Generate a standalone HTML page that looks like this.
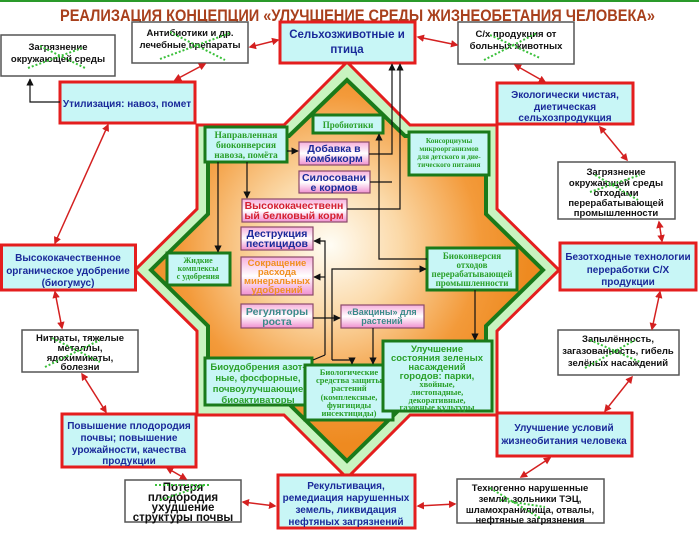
<!DOCTYPE html>
<html><head><meta charset="utf-8"><style>
html,body{margin:0;padding:0;background:#fff;width:699px;height:535px;overflow:hidden}
svg{display:block}
.ob{fill:#c8f6f6;stroke:#e41e1e;stroke-width:3}
.wb{fill:#fff;stroke:#555;stroke-width:1.5}
.gb{fill:#c8f6f6;stroke:#1a7a1a;stroke-width:3}
.pb{fill:url(#pk);stroke:#8a4a6a;stroke-width:1.2}
.bt{font-family:"Liberation Sans",sans-serif;font-weight:bold;font-size:10px;fill:#1a2a9a;text-anchor:middle}
.wt{font-family:"Liberation Sans",sans-serif;font-weight:bold;font-size:9.5px;fill:#111;text-anchor:middle}
.st{font-family:"Liberation Serif",serif;font-weight:bold;font-size:8.5px;fill:#2aa02a;text-anchor:middle}
.gt{font-family:"Liberation Sans",sans-serif;font-weight:bold;font-size:9.5px;fill:#2aa02a;text-anchor:middle}
.ra{stroke:#d42020;stroke-width:1.5;fill:none;marker-start:url(#ar);marker-end:url(#ar)}
.bl{stroke:#111;stroke-width:1.2;fill:none}
.ba{stroke:#111;stroke-width:1.2;fill:none;marker-end:url(#ab)}
.x{stroke:#3ac03a;stroke-width:2;stroke-dasharray:2 2;fill:none}
</style></head><body>
<svg width="699" height="535" viewBox="0 0 699 535" xmlns="http://www.w3.org/2000/svg">
<defs>
<radialGradient id="og" cx="330" cy="245" r="200" gradientUnits="userSpaceOnUse">
<stop offset="0" stop-color="#fffdf5"/><stop offset="0.35" stop-color="#fbd9a8"/><stop offset="0.75" stop-color="#f39a3a"/><stop offset="1" stop-color="#ee8a20"/></radialGradient>
<linearGradient id="pk" x1="0" y1="0" x2="0" y2="1"><stop offset="0" stop-color="#f6b0dc"/><stop offset="0.5" stop-color="#fff"/><stop offset="1" stop-color="#f090d0"/></linearGradient>
<marker id="ar" viewBox="0 0 10 10" refX="8" refY="5" markerWidth="5" markerHeight="5" orient="auto-start-reverse"><path d="M0,0L10,5L0,10z" fill="#d42020"/></marker>
<marker id="ab" viewBox="0 0 10 10" refX="9" refY="5" markerWidth="6" markerHeight="6" orient="auto"><path d="M0,0L10,5L0,10z" fill="#111"/></marker>
</defs>
<line x1="0" y1="1" x2="699" y2="1" stroke="#2a9a2a" stroke-width="2"/>
<text x="60" y="21" textLength="595" lengthAdjust="spacingAndGlyphs" font-family="Liberation Sans,sans-serif" font-weight="bold" font-size="16.5" fill="#a8401c">РЕАЛИЗАЦИЯ КОНЦЕПЦИИ  «УЛУЧШЕНИЕ СРЕДЫ ЖИЗНЕОБЕТАНИЯ ЧЕЛОВЕКА»</text>

<polygon points="347,62 284,125 197,125 197,209 135,270 197,331 197,415 284,415 347,478 410,415 497,415 497,331 559,270 497,209 497,125 410,125" fill="#c8f4c0" stroke="#e41e1e" stroke-width="3"/>
<polygon points="347,80 289,136 208,136 208,214 151,270 208,326 208,404 289,404 347,461 405,404 486,404 486,326 543,270 486,214 486,136 405,136" fill="url(#og)" stroke="#1a7a1a" stroke-width="4"/>

<rect class="ob" x="280" y="22" width="135" height="41"/>
<text class="bt" style="font-size:11.5px" x="347" y="38">Сельхозживотные и</text>
<text class="bt" style="font-size:11.5px" x="347" y="53">птица</text>
<rect class="ob" x="60" y="82" width="135" height="41"/>
<text class="bt" x="127" y="107">Утилизация: навоз, помет</text>
<rect class="ob" x="497" y="83" width="136" height="41"/>
<text class="bt" x="565" y="98">Экологически чистая,</text><text class="bt" x="565" y="110">диетическая</text><text class="bt" x="565" y="121">сельхозпродукция</text>
<rect class="ob" x="1.5" y="245" width="134" height="45"/>
<text class="bt" x="68" y="261">Высококачественное</text><text class="bt" x="68" y="274">органическое удобрение</text><text class="bt" x="68" y="286">(биогумус)</text>
<rect class="ob" x="560" y="243" width="136" height="47"/>
<text class="bt" x="628" y="260">Безотходные технологии</text><text class="bt" x="628" y="273">переработки С/Х</text><text class="bt" x="628" y="285">продукции</text>
<rect class="ob" x="62" y="414" width="134" height="53"/>
<text class="bt" x="129" y="429">Повышение плодородия</text><text class="bt" x="129" y="441">почвы; повышение</text><text class="bt" x="129" y="453">урожайности, качества</text><text class="bt" x="129" y="464">продукции</text>
<rect class="ob" x="497" y="413" width="135" height="43"/>
<text class="bt" x="564" y="431">Улучшение  условий</text><text class="bt" x="564" y="444">жизнеобитания человека</text>
<rect class="ob" x="278" y="475" width="137" height="53"/>
<text class="bt" x="346" y="489">Рекультивация,</text><text class="bt" x="346" y="501">ремедиация нарушенных</text><text class="bt" x="346" y="513">земель, ликвидация</text><text class="bt" x="346" y="525">нефтяных загрязнений</text>

<rect class="wb" x="1" y="35" width="114" height="41"/>
<text class="wt" x="58" y="50">Загрязнение</text><text class="wt" x="58" y="62">окружающей среды</text>
<path class="x" d="M28,68L82,48M40,46L85,68"/>
<rect class="wb" x="132" y="22" width="116" height="41"/>
<text class="wt" x="190" y="36">Антибиотики и др.</text><text class="wt" x="190" y="48">лечебные препараты</text>
<path class="x" d="M160,59L230,33M170,32L225,60"/>
<rect class="wb" x="458" y="22" width="116" height="42"/>
<text class="wt" x="516" y="37">С/х продукция от</text><text class="wt" x="516" y="49">больных животных</text>
<path class="x" d="M484,60L537,33M490,35L540,58"/>
<rect class="wb" x="558" y="162" width="117" height="57"/>
<text class="wt" x="616" y="175">Загрязнение</text><text class="wt" x="616" y="186">окружающей среды</text><text class="wt" x="616" y="196">отходами</text><text class="wt" x="616" y="206">перерабатывающей</text><text class="wt" x="616" y="216">промышленности</text>
<path class="x" d="M590,192L640,175M595,175L638,200"/>
<rect class="wb" x="22" y="330" width="116" height="42"/>
<text class="wt" x="80" y="341">Нитраты, тяжелые</text><text class="wt" x="80" y="351">металлы,</text><text class="wt" x="80" y="361">ядохимикаты,</text><text class="wt" x="80" y="370">болезни</text>
<path class="x" d="M45,367L100,340M52,338L100,362"/>
<rect class="wb" x="558" y="330" width="121" height="45"/>
<text class="wt" x="618" y="342">Запылённость,</text><text class="wt" x="618" y="354">загазованность, гибель</text><text class="wt" x="618" y="366">зелёных насаждений</text>
<path class="x" d="M585,368L635,340M590,340L640,362"/>
<rect class="wb" x="125" y="480" width="116" height="42"/>
<text class="wt" style="font-size:11.5px" x="183" y="491">Потеря</text><text class="wt" style="font-size:11.5px" x="183" y="501">плодородия</text><text class="wt" style="font-size:11.5px" x="183" y="511">ухудшение</text><text class="wt" style="font-size:11.5px" x="183" y="521">структуры почвы</text>
<path class="x" d="M155,485L210,485M160,500L205,485"/>
<rect class="wb" x="457" y="479" width="147" height="44"/>
<text class="wt" x="530" y="491">Техногенно нарушенные</text><text class="wt" x="530" y="502">земли, зольники ТЭЦ,</text><text class="wt" x="530" y="513">шламохранилища, отвалы,</text><text class="wt" x="530" y="523">нефтяные загрязнения</text>
<path class="x" d="M500,500L545,507M490,488L540,518"/>

<line class="ra" x1="250" y1="47" x2="278" y2="40"/>
<line class="ra" x1="205" y1="64" x2="175" y2="80"/>
<line class="ra" x1="418" y1="37" x2="457" y2="45"/>
<line class="ra" x1="515" y1="65" x2="545" y2="82"/>
<line class="ra" x1="600" y1="127" x2="627" y2="160"/>
<line class="ra" x1="659" y1="222" x2="662" y2="241"/>
<line class="ra" x1="660" y1="292" x2="652" y2="329"/>
<line class="ra" x1="632" y1="377" x2="605" y2="411"/>
<line class="ra" x1="550" y1="458" x2="521" y2="477"/>
<line class="ra" x1="455" y1="504" x2="418" y2="506"/>
<line class="ra" x1="275" y1="506" x2="243" y2="502"/>
<line class="ra" x1="186" y1="479" x2="167" y2="468"/>
<line class="ra" x1="106" y1="412" x2="82" y2="374"/>
<line class="ra" x1="62" y1="328" x2="55" y2="292"/>
<line class="ra" x1="55" y1="243" x2="108" y2="125"/>
<path class="ba" d="M60,102H30V79"/>

<rect class="gb" x="205" y="127" width="82" height="35"/>
<text class="st" style="font-size:9.5px" x="246" y="138">Направленная</text><text class="st" style="font-size:9.5px" x="246" y="148">биоконверсия</text><text class="st" style="font-size:9.5px" x="246" y="158">навоза, помёта</text>
<rect class="gb" x="313" y="115" width="70" height="18"/>
<text class="st" style="font-size:9px" x="348" y="128">Пробиотики</text>
<rect class="pb" x="299" y="142" width="70" height="23"/>
<text class="bt" style="font-size:10.5px" x="334" y="152">Добавка в</text><text class="bt" style="font-size:10.5px" x="334" y="162">комбикорм</text>
<rect class="pb" x="299" y="171" width="71" height="22"/>
<text class="bt" style="font-size:10.5px" x="334" y="181">Силосовани</text><text class="bt" style="font-size:10.5px" x="334" y="191">е кормов</text>
<rect class="gb" x="409" y="132" width="80" height="43"/>
<text class="st" style="font-size:7.3px" x="449" y="143">Консорциумы</text><text class="st" style="font-size:7.3px" x="449" y="151">микроорганизмов</text><text class="st" style="font-size:7.3px" x="449" y="159">для детского и дие-</text><text class="st" style="font-size:7.3px" x="449" y="167">тического питания</text>
<rect class="pb" x="242" y="199" width="105" height="23"/>
<text class="bt" style="font-size:10.5px;fill:#d42030" x="294" y="209">Высококачественн</text><text class="bt" style="font-size:10.5px;fill:#d42030" x="294" y="219">ый белковый корм</text>
<rect class="pb" x="241" y="227" width="72" height="23"/>
<text class="bt" style="font-size:10.5px" x="277" y="237">Деструкция</text><text class="bt" style="font-size:10.5px" x="277" y="247">пестицидов</text>
<rect class="pb" x="241" y="257" width="72" height="38"/>
<text class="bt" style="font-size:9.5px;fill:#f09020" x="277" y="266">Сокращение</text><text class="bt" style="font-size:9.5px;fill:#f09020" x="277" y="275">расхода</text><text class="bt" style="font-size:9.5px;fill:#f09020" x="277" y="284">минеральных</text><text class="bt" style="font-size:9.5px;fill:#f09020" x="277" y="293">удобрений</text>
<rect class="pb" x="241" y="304" width="72" height="24"/>
<text class="bt" style="font-size:10.5px;fill:#3a8a8a" x="277" y="315">Регуляторы</text><text class="bt" style="font-size:10.5px;fill:#3a8a8a" x="277" y="325">роста</text>
<rect class="pb" x="341" y="305" width="83" height="23"/>
<text class="bt" style="font-size:9px;fill:#3a8a8a" x="382" y="315">«Вакцины» для</text><text class="bt" style="font-size:9px;fill:#3a8a8a" x="382" y="324">растений</text>
<rect class="gb" x="167" y="253" width="63" height="32"/>
<text class="st" style="font-size:8px" x="198" y="263">Жидкие</text><text class="st" style="font-size:8px" x="198" y="271">комплексы</text><text class="st" style="font-size:8px" x="198" y="279">с удобрения</text>
<rect class="gb" x="427" y="248" width="90" height="42"/>
<text class="st" style="font-size:9px" x="472" y="259">Биоконверсия</text><text class="st" style="font-size:9px" x="472" y="268">отходов</text><text class="st" style="font-size:9px" x="472" y="277">перерабатывающей</text><text class="st" style="font-size:9px" x="472" y="286">промышленности</text>
<rect class="gb" x="205" y="358" width="107" height="47"/>
<text class="gt" x="258" y="370">Биоудобрения азот-</text><text class="gt" x="258" y="381">ные, фосфорные,</text><text class="gt" x="258" y="392">почвоулучшающие</text><text class="gt" x="258" y="403">биоактиваторы</text>
<rect class="gb" x="305" y="365" width="88" height="55"/>
<text class="st" x="349" y="375">Биологические</text><text class="st" x="349" y="383">средства защиты</text><text class="st" x="349" y="391">растений</text><text class="st" x="349" y="400">(комплексные,</text><text class="st" x="349" y="408">фунгициды</text><text class="st" x="349" y="416">инсектициды)</text>
<rect class="gb" x="383" y="341" width="109" height="70"/>
<text class="gt" x="437" y="352">Улучшение</text><text class="gt" x="437" y="361">состояния зеленых</text><text class="gt" x="437" y="370">насаждений</text><text class="gt" x="437" y="379">городов: парки,</text>
<text class="st" x="437" y="387">хвойные,</text><text class="st" x="437" y="395">листопадные,</text><text class="st" x="437" y="403">декоративные,</text><text class="st" x="437" y="410">газовные культуры</text>

<path class="ba" d="M218,162V252"/>
<path class="ba" d="M247,162V198"/>
<path class="ba" d="M287,151H298"/>
<path class="ba" d="M369,154H392V64"/>
<path class="bl" d="M370,182H392"/>
<path class="ba" d="M347,209H400V64"/>
<path class="ba" d="M427,259H379V134"/>
<path class="ba" d="M332,360V269H426"/>
<path class="ba" d="M325,277H314"/>
<path class="ba" d="M325,355V241H314"/>
<path class="bl" d="M325,355L313,360"/>
<path class="ba" d="M313,318H340"/>
<path class="ba" d="M332,360H352V364"/>
<path class="ba" d="M373,328V364"/>
<path class="ba" d="M475,290V340"/>
</svg>
</body></html>
